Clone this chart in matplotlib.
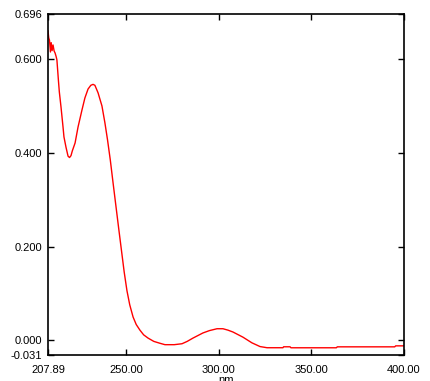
import matplotlib
matplotlib.use('Agg')
import matplotlib.pyplot as plt

plt.rcParams['font.family'] = ['Liberation Sans', 'DejaVu Sans']

# wavelength (nm) and absorbance
wavelength = [207.89, 208.3, 208.7, 209.2, 209.6, 210.1, 210.6, 211.2, 211.7,
              212.3, 212.7, 213.5, 214.0, 214.9, 216.0, 216.5, 217.6, 218.7,
              219.5, 220.3, 221.0, 222.5, 224.1, 226.2, 227.8, 229.5, 231.0,
              232.2, 233.2, 234.9, 237.0, 238.6, 240.0, 241.5, 243.0, 244.5,
              246.0, 247.5, 249.0, 250.5, 252.0, 253.8, 255.5, 257.5, 259.5,
              261.9, 265.0, 268.3, 271.0, 273.7, 276.0, 280.2, 283.0, 286.1,
              291.5, 295.0, 299.1, 302.3, 305.0, 307.7, 313.1, 317.9, 322.3,
              326.1, 334.7, 335.0, 338.5, 339.0, 363.5, 364.0, 395.0, 395.5,
              400.0]
absorbance = [0.660, 0.645, 0.640, 0.615, 0.635, 0.618, 0.630, 0.617, 0.613,
              0.605, 0.598, 0.555, 0.530, 0.498, 0.455, 0.434, 0.412, 0.393,
              0.390, 0.394, 0.404, 0.421, 0.455, 0.491, 0.517, 0.536, 0.544,
              0.546, 0.544, 0.528, 0.500, 0.464, 0.428, 0.385, 0.336, 0.288,
              0.240, 0.193, 0.146, 0.106, 0.076, 0.050, 0.034, 0.022, 0.012,
              0.005, -0.002, -0.006, -0.009, -0.009, -0.009, -0.007, -0.002, 0.005,
              0.016, 0.021, 0.025, 0.025, 0.022, 0.018, 0.007, -0.005, -0.013,
              -0.0155, -0.0155, -0.0135, -0.0135, -0.0156, -0.0156, -0.0136, -0.0136, -0.0115,
              -0.0115]

x_ticks = [207.89, 250.0, 300.0, 350.0, 400.0]
y_ticks = [-0.031, 0.0, 0.2, 0.4, 0.6, 0.696]

fig = plt.figure(figsize=(4.3, 3.81), dpi=100)
ax = fig.add_axes([48 / 430, 26 / 381, 356 / 430, 341 / 381])

ax.plot(wavelength, absorbance, color='red', lw=1.0)

ax.set_xlim(207.89, 400.0)
ax.set_ylim(-0.031, 0.696)
ax.set_xticks(x_ticks)
ax.set_xticklabels(['%.2f' % v for v in x_ticks])
ax.set_yticks(y_ticks)
ax.set_yticklabels(['%.3f' % v for v in y_ticks])

ax.tick_params(direction='in', length=4, width=1, labelsize=8, colors='black',
               top=True, right=True)
ax.tick_params(axis='x', pad=7)
ax.tick_params(axis='y', pad=4)
for s in ax.spines.values():
    s.set_linewidth(1.2)

# the unit label sits half outside the figure, as in the original
ax.set_xlabel('nm', fontsize=8, labelpad=0)

fig.savefig('out.png', dpi=100)
